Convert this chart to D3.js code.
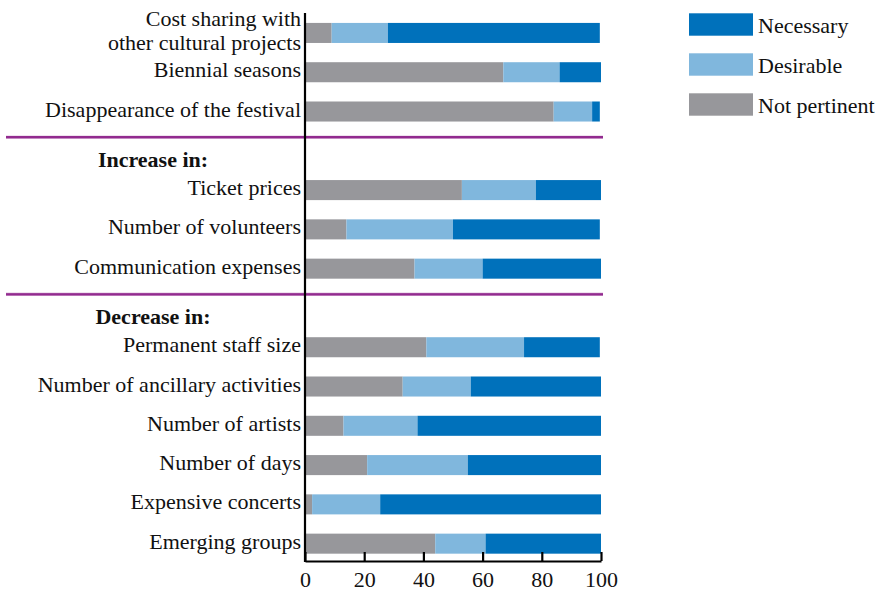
<!DOCTYPE html>
<html>
<head>
<meta charset="utf-8">
<script src="https://cdn.jsdelivr.net/npm/d3@7"></script>
<style>
  html, body { margin: 0; padding: 0; background: #fff; }
  svg { display: block; font-family: "Liberation Serif", "Times New Roman", serif; }
</style>
</head>
<body>
<svg id="chart" width="888" height="592"></svg>
<script>
// Measures, top to bottom, grouped by section
const categories = [
  "Cost sharing with\nother cultural projects",
  "Biennial seasons",
  "Disappearance of the festival",
  "Ticket prices",
  "Number of volunteers",
  "Communication expenses",
  "Permanent staff size",
  "Number of ancillary activities",
  "Number of artists",
  "Number of days",
  "Expensive concerts",
  "Emerging groups"
];
const sectionHeaders = ["Increase in:", "Decrease in:"];
// Row order with section headers inserted
const rowOrder = [
  categories[0], categories[1], categories[2],
  sectionHeaders[0],
  categories[3], categories[4], categories[5],
  sectionHeaders[1],
  categories[6], categories[7], categories[8], categories[9], categories[10], categories[11]
];

// Shares of respondents (%)
const notPertinent = [9, 67, 84, 53, 14, 37, 41, 33, 13, 21, 2.4, 44];
const desirable    = [19, 19, 13, 25, 36, 23, 33, 23, 25, 34, 23, 17];
const necessary    = [71.6, 14, 2.6, 22, 49.6, 40, 25.6, 44, 62, 45, 74.6, 39];

const seriesNames = ["Not pertinent", "Desirable", "Necessary"];
const seriesColors = ["#97979b", "#80b7dd", "#0071bb"];
const legendOrder = ["Necessary", "Desirable", "Not pertinent"];
const xTicks = [0, 20, 40, 60, 80, 100];

const table = categories.map((c, i) => ({
  category: c,
  "Not pertinent": notPertinent[i],
  "Desirable": desirable[i],
  "Necessary": necessary[i]
}));

const svg = d3.select("#chart");
const fontSize = 22;

const x = d3.scaleLinear().domain([0, 100]).range([305, 601]);
const y = d3.scaleBand()
  .domain(rowOrder)
  .range([13.3, 563.3])
  .paddingInner(0.49)
  .paddingOuter(0.245);
const color = d3.scaleOrdinal().domain(seriesNames).range(seriesColors);

const stacked = d3.stack().keys(seriesNames)(table);

// Stacked bars
svg.append("g")
  .selectAll("g")
  .data(stacked)
  .join("g")
  .attr("fill", d => color(d.key))
  .selectAll("rect")
  .data(d => d)
  .join("rect")
  .attr("x", d => x(d[0]))
  .attr("y", d => y(d.data.category))
  .attr("width", d => x(d[1]) - x(d[0]))
  .attr("height", y.bandwidth());

// Section dividers
const divider = svg.append("g");
sectionHeaders.forEach(h => {
  const yy = y(h) + y.bandwidth() / 2 - 13.5;
  divider.append("line")
    .attr("x1", 6).attr("x2", 603)
    .attr("y1", yy).attr("y2", yy)
    .attr("stroke", "#c58ac2").attr("stroke-width", 3.2);
  divider.append("line")
    .attr("x1", 6).attr("x2", 603)
    .attr("y1", yy - 0.3).attr("y2", yy - 0.3)
    .attr("stroke", "#922b8f").attr("stroke-width", 2);
});

// Section headers
svg.append("g")
  .selectAll("text")
  .data(sectionHeaders)
  .join("text")
  .attr("x", 153)
  .attr("y", d => y(d) + y.bandwidth() / 2 + 16.5)
  .attr("text-anchor", "middle")
  .attr("font-weight", "bold")
  .attr("font-size", fontSize)
  .attr("fill", "#111")
  .text(d => d);

// Category labels (right aligned to the axis)
const labels = svg.append("g")
  .selectAll("text")
  .data(categories)
  .join("text")
  .attr("text-anchor", "end")
  .attr("font-size", fontSize)
  .attr("fill", "#111")
  .attr("x", 301)
  .attr("y", d => y(d) + y.bandwidth() / 2 + 5);
labels.each(function(d) {
  const lines = d.split("\n");
  const t = d3.select(this);
  const lineH = 24;
  lines.forEach((ln, i) => {
    t.append("tspan")
      .attr("x", 301)
      .attr("dy", i === 0 ? -(lines.length - 1) * lineH / 2 : lineH)
      .text(ln);
  });
});

// Vertical axis line
svg.append("line")
  .attr("x1", x(0)).attr("x2", x(0))
  .attr("y1", 13).attr("y2", 562)
  .attr("stroke", "#000").attr("stroke-width", 2.2);

// Horizontal axis
const xAxis = d3.axisBottom(x)
  .tickValues(xTicks)
  .tickFormat(d3.format("d"))
  .tickSize(-9)
  .tickSizeOuter(0)
  .tickPadding(10);
const gx = svg.append("g")
  .attr("transform", "translate(0,561)")
  .call(xAxis);
gx.select(".domain").attr("stroke", "#000").attr("stroke-width", 2.2);
gx.selectAll(".tick line").attr("stroke", "#000").attr("stroke-width", 2.2);
gx.selectAll(".tick text")
  .attr("font-size", fontSize)
  .attr("font-family", "Liberation Serif, serif")
  .attr("fill", "#111");

// Legend
const legend = svg.append("g")
  .selectAll("g")
  .data(legendOrder)
  .join("g")
  .attr("transform", (d, i) => `translate(689,${13.3 + i * 40})`);
legend.append("rect")
  .attr("width", 64)
  .attr("height", 22.4)
  .attr("fill", d => color(d));
legend.append("text")
  .attr("x", 69)
  .attr("y", 11.2)
  .attr("dy", "0.38em")
  .attr("font-size", fontSize)
  .attr("fill", "#111")
  .text(d => d);
</script>
</body>
</html>
